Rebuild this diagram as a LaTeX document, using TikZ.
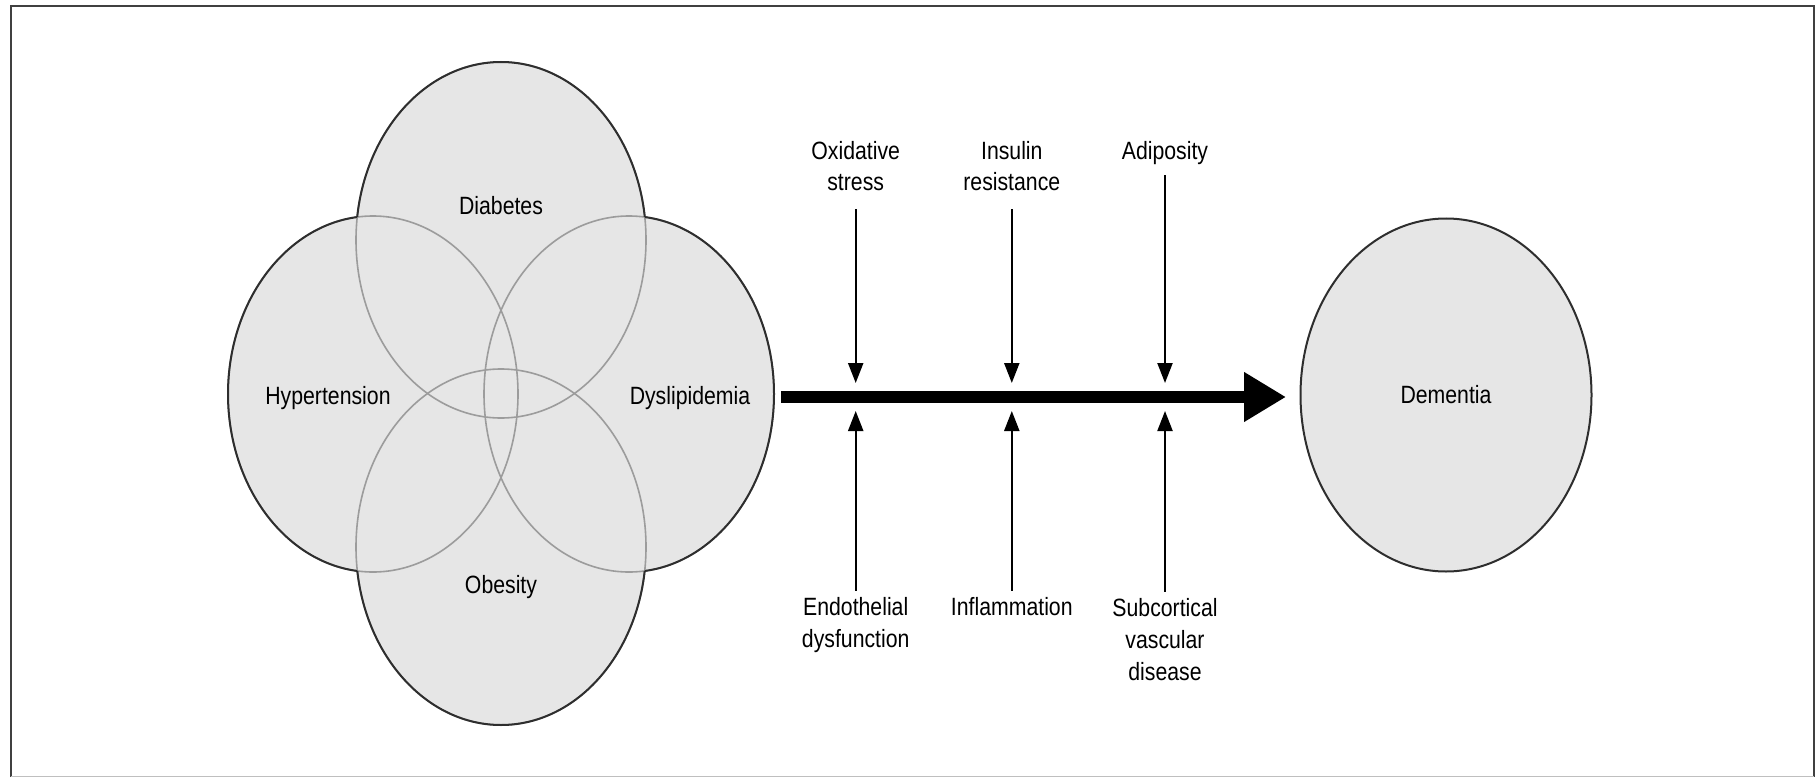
\documentclass[tikz,border=0pt]{standalone}
\usepackage{fontspec}
\setmainfont[FakeStretch=0.85]{Liberation Sans}
\usetikzlibrary{arrows.meta,shapes.geometric}
\definecolor{fillgray}{HTML}{E6E6E6}
\definecolor{edgecol}{HTML}{2E2E2E}
\definecolor{innercol}{HTML}{9C9C9C}
\newcommand\vennouter[4]{%
  \begin{scope}[even odd rule]
    \clip (-20,-20) rectangle (1840,800) (#2) ellipse [x radius=145pt, y radius=178pt];
    \clip (-20,-20) rectangle (1840,800) (#3) ellipse [x radius=145pt, y radius=178pt];
    \clip (-20,-20) rectangle (1840,800) (#4) ellipse [x radius=145pt, y radius=178pt];
    \draw[edgecol, line width=2pt] (#1) ellipse [x radius=145pt, y radius=178pt];
  \end{scope}}
\begin{document}
\begin{tikzpicture}[x=1pt,y=-1pt,
  lab/.style={font=\fontsize{25}{32}\selectfont, align=center, inner sep=0pt, text=black},
  smallarr/.style={line width=2.2pt, draw=black, -{Triangle[length=20pt,width=15pt]}},
  mainarr/.style={line width=11.5pt, draw=black, -{Triangle[length=42pt,width=47pt]}},
]
\useasboundingbox (0,0) rectangle (1820,778);
\fill[white] (0,0) rectangle (1820,778);
% frame
\draw[line width=2pt, draw=black!75] (10.7,777) -- (10.7,6) -- (1814,6) -- (1814,777);
\draw[line width=1pt, draw=black!25] (10.7,776) -- (1814,776);

% Venn centres
\coordinate (diab) at (501,240);
\coordinate (hyp) at (373,394);
\coordinate (dys) at (629,394);
\coordinate (obe) at (501,547);

\foreach \n in {diab,hyp,dys,obe} \fill[fillgray] (\n) ellipse [x radius=145pt, y radius=178pt];
\foreach \n in {diab,hyp,dys,obe} \draw[innercol, line width=1.6pt] (\n) ellipse [x radius=145pt, y radius=178pt];
\vennouter{diab}{hyp}{dys}{obe}
\vennouter{hyp}{diab}{dys}{obe}
\vennouter{dys}{diab}{hyp}{obe}
\vennouter{obe}{diab}{hyp}{dys}

\node[lab] (diabl) at (501,206) {Diabetes};
\node[lab] (hypl) at (328,398) {Hypertension};
\node[lab] (dysl) at (690,398) {Dyslipidemia};
\node[lab] (obel) at (501,587) {Obesity};

% Dementia
\node[lab, ellipse, draw=edgecol, line width=2pt, fill=fillgray, minimum width=291pt, minimum height=353pt] (dem) at (1446,395) {Dementia};

% main arrow
\coordinate (vennout) at (781,397);
\draw[mainarr, shorten >=13.5pt] (vennout) -- (vennout -| dem.west);

% points on the main arrow
\coordinate (oxt) at (855.7,383);
\coordinate (int) at (1011.8,383);
\coordinate (adt) at (1165,383);
\coordinate (enb) at (855.7,411);
\coordinate (inb) at (1011.8,411);
\coordinate (scb) at (1165,411);

% labels (base = baseline of the last line)
\node[lab, anchor=base] (oxid) at (855.7,191) {Oxidative\\stress};
\node[lab, anchor=base] (insr) at (1011.8,191) {Insulin\\resistance};
\node[lab, anchor=base] (adip) at (1165,160) {Adiposity};
\node[lab, anchor=base] (endo) at (855.7,647) {Endothelial\\dysfunction};
\node[lab, anchor=base] (infl) at (1011.8,615) {Inflammation};
\node[lab, anchor=base] (subc) at (1165,680) {Subcortical\\vascular\\disease};

\draw[smallarr, shorten <=18pt] (oxid.south) -- (oxt);
\draw[smallarr, shorten <=18pt] (insr.south) -- (int);
\draw[smallarr, shorten <=10pt] (adip.south) -- (adt);
\draw[smallarr, shorten <=6pt] (endo.north) -- (enb);
\draw[smallarr, shorten <=6pt] (infl.north) -- (inb);
\draw[smallarr, shorten <=6pt] (subc.north) -- (scb);
\end{tikzpicture}
\end{document}
